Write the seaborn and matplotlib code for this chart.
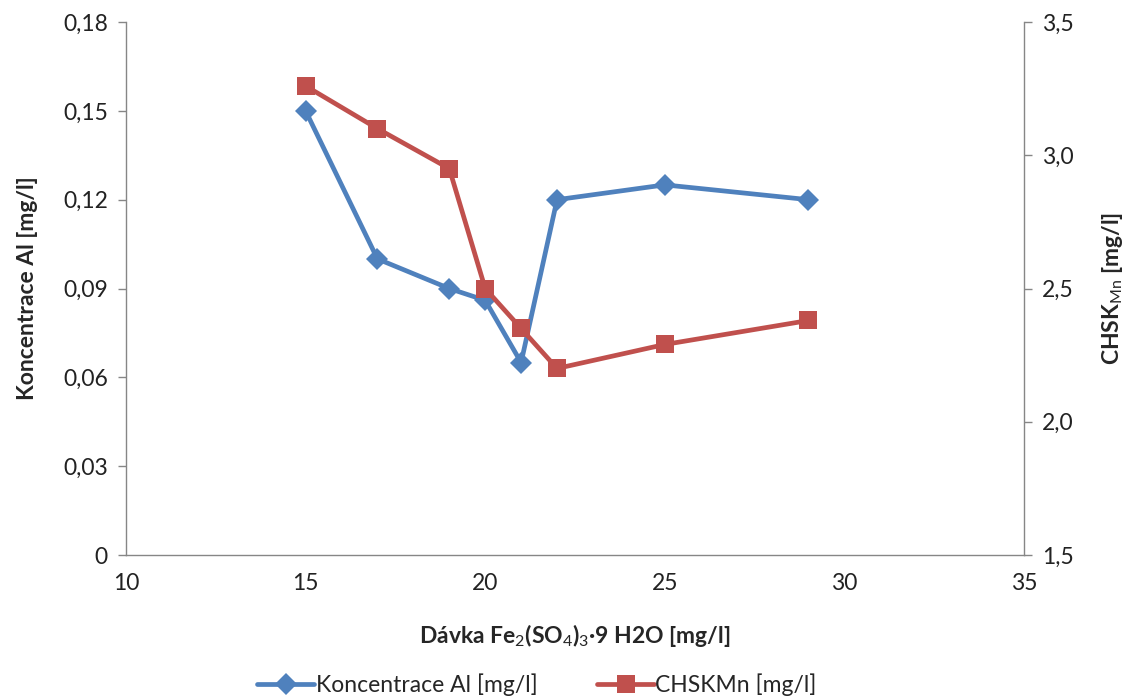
import matplotlib
matplotlib.use("Agg")
import matplotlib.pyplot as plt
import seaborn as sns
import pandas as pd
from matplotlib.ticker import FuncFormatter, MultipleLocator
from matplotlib.lines import Line2D

# Dose of ferric sulfate [mg/l]
davka = [15, 17, 19, 20, 21, 22, 25, 29]
# Residual aluminium concentration [mg/l]
al = [0.150, 0.100, 0.090, 0.086, 0.065, 0.120, 0.125, 0.120]
# Permanganate COD [mg/l]
chsk = [3.26, 3.10, 2.95, 2.50, 2.35, 2.20, 2.29, 2.38]

label_al = "Koncentrace Al [mg/l]"
label_chsk = "CHSKMn [mg/l]"

sns.set_theme(style="white")
plt.rcParams["font.family"] = ["Lato", "DejaVu Sans"]
plt.rcParams["mathtext.fontset"] = "custom"
plt.rcParams["mathtext.rm"] = "Lato"
plt.rcParams["mathtext.it"] = "Lato:italic"
plt.rcParams["mathtext.bf"] = "Lato:bold"

BLUE = "#4F81BD"
RED = "#C0504D"
GREY = "#868686"
FS = 16.5

df = pd.DataFrame({"davka": davka, "al": al, "chsk": chsk})

fig = plt.figure(figsize=(11.28, 6.99), dpi=100)
ax = fig.add_axes([0.1117, 0.206, 0.7961, 0.7625])
ax2 = ax.twinx()

sns.lineplot(data=df, x="davka", y="al", ax=ax, color=BLUE, lw=3.4,
             marker="D", markersize=11, markeredgewidth=0, zorder=3)
sns.lineplot(data=df, x="davka", y="chsk", ax=ax2, color=RED, lw=3.4,
             marker="s", markersize=13, markeredgewidth=0, zorder=3)

ax.set_xlim(10, 35)
ax.set_ylim(0, 0.18)
ax2.set_ylim(1.5, 3.5)
ax.xaxis.set_major_locator(MultipleLocator(5))
ax.yaxis.set_major_locator(MultipleLocator(0.03))
ax2.yaxis.set_major_locator(MultipleLocator(0.5))

ax.yaxis.set_major_formatter(FuncFormatter(
    lambda v, p: "0" if abs(v) < 1e-9 else f"{v:.2f}".replace(".", ",")))
ax2.yaxis.set_major_formatter(FuncFormatter(
    lambda v, p: f"{v:.1f}".replace(".", ",")))

for a in (ax, ax2):
    for s in a.spines.values():
        s.set_color(GREY)
        s.set_linewidth(1.0)
    a.spines["top"].set_visible(False)
    a.tick_params(axis="both", which="major", direction="out", length=6,
                  width=1, color=GREY, labelsize=FS, labelcolor="#222222", pad=7)
    a.grid(False)
ax2.spines["left"].set_visible(False)
ax2.spines["bottom"].set_visible(False)
ax.spines["right"].set_visible(False)

ax.set_xlabel(r"Dávka Fe$_2$(SO$_4$)$_3$·9 H2O [mg/l]", fontsize=FS,
              fontweight="bold", labelpad=20)
ax.set_ylabel("Koncentrace Al [mg/l]", fontsize=FS, fontweight="bold", labelpad=18)
ax2.set_ylabel(r"CHSK$_{\mathrm{Mn}}$ [mg/l]", fontsize=FS, fontweight="bold",
               labelpad=19, rotation=90)

handles = [
    Line2D([], [], color=BLUE, lw=3.4, marker="D", markersize=11, markeredgewidth=0),
    Line2D([], [], color=RED, lw=3.4, marker="s", markersize=13, markeredgewidth=0),
]
fig.legend(handles, [label_al, label_chsk], loc="center", bbox_to_anchor=(0.476, 0.02),
           ncol=2, frameon=False, fontsize=FS, handlelength=2.5,
           handletextpad=0.05, columnspacing=2.6)

fig.savefig("out.png", dpi=100)
